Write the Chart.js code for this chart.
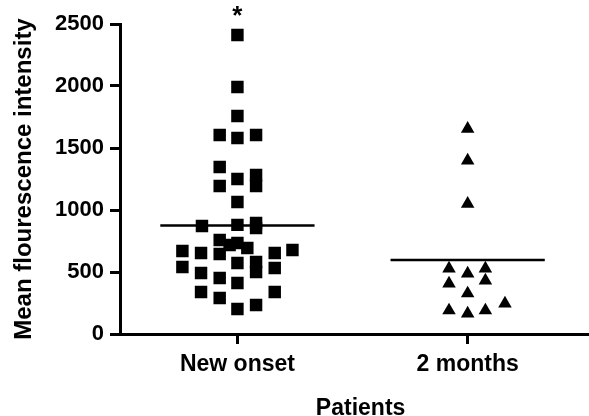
<!DOCTYPE html>
<html>
<head>
<meta charset="utf-8">
<script src="https://cdn.jsdelivr.net/npm/chart.js@4"></script>
<style>
html, body { margin: 0; padding: 0; overflow: hidden; background: #fff; }
canvas { display: block; }
</style>
</head>
<body>
<canvas id="graf" width="610" height="430"></canvas>
<script>
// Dados do gráfico
const categories = ['New onset', '2 months']
const yTicks = [0, 500, 1000, 1500, 2000, 2500]

const newOnset = [2411, 1992, 1758, 1605, 1605, 1581, 1347, 1250, 1282, 1194, 1194, 1065,
  871, 880, 895, 855, 758, 718, 734, 694, 669, 653, 645, 653, 677, 581, 500, 573,
  540, 532, 492, 452, 411, 339, 339, 290, 234, 202]
// deslocamento horizontal de cada ponto (em unidades de categoria)
const newOnsetJitter = [0, 0, 0, -0.077, 0.081, 0, -0.077, 0, 0.081, 0.081, -0.077, 0,
  -0.154, 0, 0.081, 0.081, -0.077, -0.034, 0, 0.043, -0.239, -0.158, -0.077, 0.162, 0.239, 0.081, 0.081, 0,
  -0.239, 0.162, -0.158, -0.077, 0, -0.158, 0.162, -0.077, 0.081, 0]

const twoMonths = [1655, 1398, 1050, 528, 488, 528, 407, 431, 327, 246, 190, 165, 190]
const twoMonthsJitter = [0, 0, 0, -0.081, 0, 0.077, -0.081, 0.077, 0, 0.162, -0.081, 0, 0.077]

const means = [875, 597]
const significance = ['*', '']

const FONT = '"Liberation Sans", Arial, Helvetica, sans-serif'
Chart.defaults.font.family = FONT
Chart.defaults.color = '#000'

let ctx = document.getElementById('graf').getContext('2d')

// asterisco acima do maior valor de cada grupo
const starPlugin = {
  id: 'star',
  afterDatasetsDraw(chart) {
    const { ctx, scales } = chart
    const groups = [newOnset, twoMonths]
    ctx.save()
    ctx.font = 'bold 26px ' + FONT
    ctx.fillStyle = '#000'
    ctx.textAlign = 'center'
    ctx.textBaseline = 'alphabetic'
    significance.forEach((s, i) => {
      if (!s) return
      const x = scales.x.getPixelForValue(i + 1)
      const y = scales.y.getPixelForValue(Math.max(...groups[i]))
      ctx.fillText(s, x, y - 11)
    })
    ctx.restore()
  }
}

const meanLines = means.map((m, i) => ({
  type: 'line',
  data: [{ x: i + 1 - 0.335, y: m }, { x: i + 1 + 0.335, y: m }],
  borderColor: '#000',
  borderWidth: 2.5,
  pointRadius: 0,
  showLine: true,
  fill: false
}))

const axisGrid = {
  drawOnChartArea: false,
  drawTicks: true,
  tickLength: 10,
  lineWidth: 3,
  color: '#000'
}

const config = {
  type: 'scatter',
  data: {
    datasets: [
      {
        label: categories[0],
        data: newOnset.map((v, i) => ({ x: 1 + newOnsetJitter[i], y: v })),
        pointStyle: 'rect',
        pointRadius: 8.8,
        backgroundColor: '#000',
        borderWidth: 0
      },
      {
        label: categories[1],
        data: twoMonths.map((v, i) => ({ x: 2 + twoMonthsJitter[i], y: v })),
        pointStyle: 'triangle',
        pointRadius: 7.8,
        backgroundColor: '#000',
        borderWidth: 0
      },
      ...meanLines
    ]
  },
  options: {
    responsive: false,
    animation: false,
    layout: { padding: { top: 24, left: 0, right: 0, bottom: 0 } },
    plugins: {
      legend: { display: false },
      tooltip: { enabled: false }
    },
    scales: {
      x: {
        type: 'linear',
        min: 0.49,
        max: 2.58,
        afterBuildTicks: s => { s.ticks = [{ value: 1 }, { value: 2 }] },
        afterFit: s => { s.height = 96 },
        ticks: {
          callback: v => categories[v - 1],
          font: { size: 23, weight: 'bold' },
          padding: 7,
          maxRotation: 0
        },
        grid: axisGrid,
        border: { display: true, color: '#000', width: 3 },
        title: {
          display: true,
          text: 'Patients',
          font: { size: 23, weight: 'bold' },
          padding: { top: 0, bottom: 8 }
        }
      },
      y: {
        min: 0,
        max: 2500,
        afterBuildTicks: s => { s.ticks = yTicks.map(v => ({ value: v })) },
        afterFit: s => { s.width = 120 },
        ticks: {
          callback: v => String(v),
          font: { size: 22, weight: 'bold' },
          padding: 6
        },
        grid: axisGrid,
        border: { display: true, color: '#000', width: 3 },
        title: {
          display: true,
          text: 'Mean flourescence intensity',
          font: { size: 24, weight: 'bold' },
          padding: { top: 10, bottom: 0 }
        }
      }
    }
  },
  plugins: [starPlugin]
}

const grafic = new Chart(ctx, config)
</script>
</body>
</html>
